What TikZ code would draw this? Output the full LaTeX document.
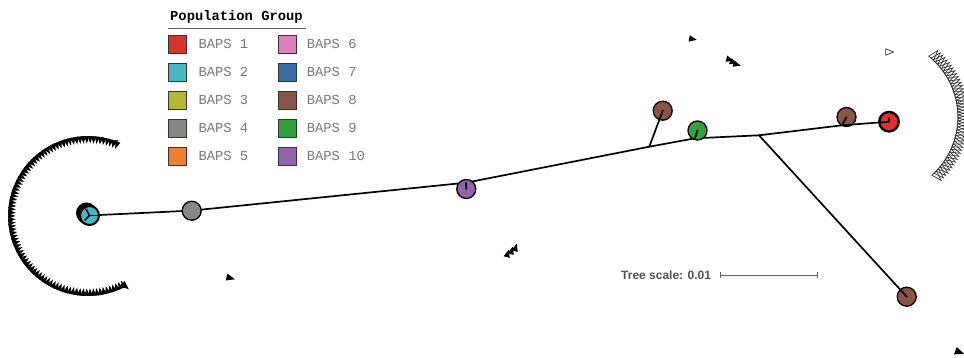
\documentclass[tikz,border=0pt]{standalone}
\usepackage{fontspec}
\setmainfont{Liberation Sans}
\newfontfamily\legfont{Liberation Mono}
\definecolor{bapsA}{HTML}{D6352C}
\definecolor{bapsB}{HTML}{45B8C6}
\definecolor{bapsC}{HTML}{B8B734}
\definecolor{bapsD}{HTML}{8A8681}
\definecolor{bapsE}{HTML}{F07F2E}
\definecolor{bapsF}{HTML}{DE7FBD}
\definecolor{bapsG}{HTML}{3A6CA5}
\definecolor{bapsH}{HTML}{8B5445}
\definecolor{bapsI}{HTML}{36A03D}
\definecolor{bapsJ}{HTML}{9563AE}
\definecolor{redleaf}{HTML}{E3302A}
\newcommand\mytri[5]{%
  \path[#5] ({#1+#4*cos(#3)},{#2-#4*sin(#3)}) -- ({#1+#4*cos(#3+135)},{#2-#4*sin(#3+135)}) -- ({#1+#4*cos(#3-135)},{#2-#4*sin(#3-135)}) -- cycle;}
\begin{document}
\begin{tikzpicture}[x=1pt,y=-1pt,
  leaf/.style={circle,draw=black,line width=1.3pt,minimum size=19pt,inner sep=0pt},
  branch/.style={line width=1.7pt,black,line cap=round,line join=round},
  legbox/.style={draw=black!80,line width=0.7pt,minimum size=18.3pt,inner sep=0pt},
  legtext/.style={anchor=west,text=black!52,font=\legfont\fontsize{13.8}{14}\selectfont,inner sep=0pt},
  tritip/.style={fill=black},
  trihollow/.style={draw=black!80,line width=0.7pt,fill=white}
]
\fill[white] (0,0) rectangle (964,357);
\useasboundingbox (0,0) rectangle (964,357);

% ---------- legend ----------
\node[anchor=west,inner sep=0pt,font=\legfont\bfseries\fontsize{13.8}{14}\selectfont] (title) at (170,16.5) {Population Group};
\coordinate (ulA) at (168,28.3);
\coordinate (ulB) at (306,28.3);
\draw[black!60,line width=1.2pt] (ulA) -- (ulB);

\node[legbox,fill=bapsA] (b1) at (177.5,44.3) {};
\node[legbox,fill=bapsB] (b2) at (177.5,72.3) {};
\node[legbox,fill=bapsC] (b3) at (177.5,100.3) {};
\node[legbox,fill=bapsD] (b4) at (177.5,128.3) {};
\node[legbox,fill=bapsE] (b5) at (177.5,156.3) {};
\node[legbox,fill=bapsF] (b6) at (287.5,44.3) {};
\node[legbox,fill=bapsG] (b7) at (287.5,72.3) {};
\node[legbox,fill=bapsH] (b8) at (287.5,100.3) {};
\node[legbox,fill=bapsI] (b9) at (287.5,128.3) {};
\node[legbox,fill=bapsJ] (b10) at (287.5,156.3) {};
\node[legtext] (t1) at (198.3,44.3) {BAPS 1};
\node[legtext] (t2) at (198.3,72.3) {BAPS 2};
\node[legtext] (t3) at (198.3,100.3) {BAPS 3};
\node[legtext] (t4) at (198.3,128.3) {BAPS 4};
\node[legtext] (t5) at (198.3,156.3) {BAPS 5};
\node[legtext] (t6) at (306.7,44.3) {BAPS 6};
\node[legtext] (t7) at (306.7,72.3) {BAPS 7};
\node[legtext] (t8) at (306.7,100.3) {BAPS 8};
\node[legtext] (t9) at (306.7,128.3) {BAPS 9};
\node[legtext] (t10) at (306.7,156.3) {BAPS 10};

% ---------- tree scale ----------
\node[anchor=west,inner sep=0pt,font=\bfseries\fontsize{12}{12}\selectfont,text=black!68] (ts) at (621,275) {Tree scale: 0.01};
\coordinate (sA) at (720,275);
\coordinate (sB) at (817,275);
\coordinate (sAt) at (720,272);
\coordinate (sAb) at (720,278);
\coordinate (sBt) at (817,272);
\coordinate (sBb) at (817,278);
\draw[black!62,line width=1pt] (sA) -- (sB);
\draw[black!62,line width=1pt] (sAt) -- (sAb);
\draw[black!62,line width=1pt] (sBt) -- (sBb);

% ---------- tree: internal points ----------
\coordinate (root) at (89,215.5);
\coordinate (p0) at (191.7,210.6);
\coordinate (p1) at (466,182.7);
\coordinate (p2) at (649.3,146.7);
\coordinate (p3) at (695,138.3);
\coordinate (p4) at (759,135.3);
\coordinate (p5) at (842,125.3);

% main backbone (under the circles)
\draw[branch] (root) -- (p0) -- (p1) -- (p2) -- (p3) -- (p4) -- (p5);

% ---------- leaves ----------
\node[leaf,fill=bapsB,line width=2pt] (c1) at (86.5,213) {};
\node[leaf,fill=bapsB,line width=2pt] (c2) at (88,214.5) {};
\node[leaf,fill=bapsB,line width=2pt] (c3) at (89.5,215.5) {};
\node[leaf,fill=bapsD] (g) at (191.7,210.7) {};
\node[leaf,fill=bapsJ] (pu) at (466.3,189) {};
\node[leaf,fill=bapsH] (br1) at (662.7,110.7) {};
\node[leaf,fill=bapsI] (gr) at (697.5,130.5) {};
\node[leaf,fill=bapsH] (br2) at (846.5,117) {};
\node[leaf,fill=bapsH] (br3) at (906.7,296.7) {};
\node[leaf,fill=redleaf,line width=2.4pt,minimum size=19.5pt] (rd) at (889,121.7) {};

% ---------- leaf branches (on top) ----------
\coordinate (ca) at (86,209);
\coordinate (cb) at (85,220);
\draw[branch,line width=1.5pt] (ca) -- (c3.center) -- (cb);
\draw[branch] (c3.center) -- (c3.east);
\draw[branch] (p1) -- (pu.center);
\draw[branch] (p2) -- (br1.center);
\draw[branch] (p3) -- (gr.center);
\draw[branch] (p4) -- (br3.center);
\draw[branch] (p5) -- (br2.center);
\draw[branch] (p5) -- (rd.center);
\coordinate (rdt) at (889,118);
\draw[branch,line width=1.3pt] (rd.center) -- (rdt);

% ---------- left arc of filled triangles ----------
\foreach \i in {0,...,90} {
  \pgfmathsetmacro\ang{68+\i*2.5444}
  \fill[black] ({88+80*cos(\ang-1.9)},{216-80*sin(\ang-1.9)}) -- ({88+80*cos(\ang+1.9)},{216-80*sin(\ang+1.9)}) -- ({88+72.5*cos(\ang)},{216-72.5*sin(\ang)}) -- cycle;
}
\mytri{125}{286}{-40}{5}{tritip}
\mytri{115}{142}{30}{4}{tritip}

% ---------- right arc of hollow triangles ----------
\foreach \i in {0,...,44} {
  \pgfmathsetmacro\ang{-46+\i*2.159}
  \draw[black!80,line width=0.7pt,line join=miter] ({880+78*cos(\ang-2.3)},{117-78*sin(\ang-2.3)}) -- ({880+78*cos(\ang+2.3)},{117-78*sin(\ang+2.3)}) -- ({880+88*cos(\ang)},{117-88*sin(\ang)}) -- cycle;
}
\mytri{889}{52}{0}{4.5}{trihollow}

% ---------- scattered filled triangles ----------
\mytri{692.3}{39}{-10}{4.5}{tritip}
\mytri{729.5}{59.5}{-15}{4.5}{tritip}
\mytri{733}{62}{-15}{4.5}{tritip}
\mytri{736.5}{64.5}{-15}{4.5}{tritip}
\mytri{507.5}{254}{75}{4.5}{tritip}
\mytri{511.5}{251}{75}{4.5}{tritip}
\mytri{515.5}{248}{75}{4.5}{tritip}
\mytri{230}{278}{-15}{5}{tritip}
\mytri{959}{352}{-20}{5.5}{tritip}
\end{tikzpicture}
\end{document}
